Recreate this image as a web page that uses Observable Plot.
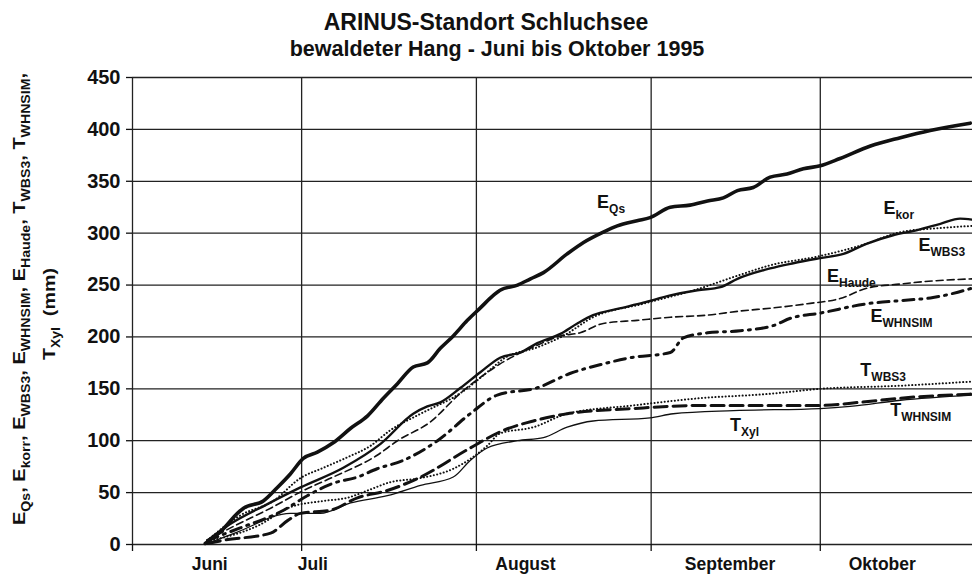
<!DOCTYPE html>
<html>
<head>
<meta charset="utf-8">
<script src="https://cdn.jsdelivr.net/npm/d3@7"></script>
<script src="https://cdn.jsdelivr.net/npm/@observablehq/plot@0.6"></script>
<style>
  body { margin: 0; background: #fff; font-family: "Liberation Sans", Arial, sans-serif; color: #111; }
  #head { position: relative; width: 972px; height: 66px; }
  #t1 { position: absolute; left: 0; width: 972px; top: 9px; text-align: center; font-weight: bold; font-size: 23px; line-height: 27px; }
  #t2 { position: absolute; left: 22px; width: 950px; top: 37px; text-align: center; font-weight: bold; font-size: 21.5px; line-height: 24px; }
</style>
</head>
<body>
<div id="head">
  <div id="t1">ARINUS-Standort Schluchsee</div>
  <div id="t2">bewaldeter Hang - Juni bis Oktober 1995</div>
</div>
<div id="chart"></div>
<script>
// ---- Data (day = days since 1 June 1995, value = cumulative mm) ----
const E_Qs = [[12.9,1],[16.1,15],[18.6,30],[19.7,35],[23.2,42],[25.7,55],[28.0,68],[30.3,83],[32.8,89],[35.6,98],[38.7,112],[41.7,124],[44.5,141],[47.0,155],[49.8,171],[52.3,175],[54.6,189],[56.9,201],[59.4,216],[61.7,228],[64.0,240],[65.2,245],[68.3,250],[70.6,256],[72.9,262],[77.1,280],[80.0,291],[83.5,301],[86.0,307],[89.5,312],[91.8,315],[95.4,325],[98.9,327],[102.0,331],[104.8,334],[107.3,341],[110.1,344],[113.1,354],[116.1,357],[119.0,362],[122.0,365],[125.5,372],[130.9,384],[136.2,392],[141.5,399],[148.6,406]];
const E_kor = [[13.3,4],[17.4,20],[23.6,38],[29.8,55],[37.4,74],[44.0,97],[49.8,126],[52.3,133],[54.6,137],[58.2,151],[61.7,166],[65.2,180],[68.8,185],[71.8,194],[75.9,203],[78.9,213],[81.7,221],[86.0,227],[90.6,233],[95.4,240],[100.2,245],[104.3,248],[107.3,256],[113.1,266],[117.2,271],[122.0,276],[126.1,280],[130.3,290],[134.9,298],[139.2,303],[143.3,309],[146.8,314],[148.9,313]];
const E_WBS3 = [[13.3,4],[19.1,28],[25.0,42],[29.8,64],[33.9,74],[38.1,84],[42.2,95],[45.7,110],[51.1,126],[58.2,146],[64.0,171],[65.8,179],[71.8,190],[76.4,201],[81.7,219],[90.6,232],[100.2,246],[107.3,259],[113.1,269],[122.0,278],[130.3,290],[136.2,301],[143.3,305],[148.9,307]];
const E_Haude = [[13.3,4],[17.4,16],[24.5,35],[30.3,52],[35.6,65],[43.4,86],[47.0,100],[52.8,118],[58.2,146],[61.7,161],[65.2,174],[71.8,192],[75.9,201],[79.4,204],[83.5,213],[89.5,216],[95.4,219],[102.0,221],[107.8,225],[113.7,228],[119.7,232],[125.5,237],[130.3,247],[136.2,251],[142.0,254],[148.9,256]];
const E_WHNSIM = [[13.3,4],[19.1,16],[26.8,33],[31.0,47],[35.6,59],[39.9,65],[43.4,73],[48.0,81],[54.1,100],[59.9,126],[64.7,144],[71.8,151],[77.7,165],[83.5,174],[88.3,180],[95.4,185],[97.7,199],[102.0,204],[107.8,206],[113.7,211],[116.7,218],[122.0,223],[130.3,232],[136.2,235],[142.0,238],[145.6,242],[148.9,247]];
const T_WBS3 = [[13.3,3],[22.2,18],[28.0,36],[33.9,42],[38.1,45],[41.7,52],[45.7,60],[51.1,64],[56.9,73],[62.9,95],[65.2,107],[71.1,113],[77.1,126],[88.8,134],[100.7,141],[112.6,145],[122.0,150],[136.2,153],[148.9,157]];
const T_WHNSIM = [[13.3,1],[16.1,4],[24.5,11],[27.5,23],[29.8,30],[35.1,33],[39.9,45],[45.2,52],[51.1,65],[59.9,93],[65.8,110],[71.1,119],[77.1,126],[88.8,131],[100.7,134],[122.0,134],[129.0,137],[136.2,141],[148.9,145]];
const T_Xyl = [[13.3,1],[18.6,12],[28.0,30],[33.3,30],[38.7,40],[45.2,47],[51.1,57],[56.9,65],[59.9,81],[62.9,93],[68.3,100],[72.9,103],[77.1,113],[81.7,119],[91.8,122],[95.9,126],[106.6,129],[122.0,131],[127.3,133],[136.2,139],[148.9,144]];

const yTicks = [0, 50, 100, 150, 200, 250, 300, 350, 400, 450];
const monthStarts = [0, 30, 61, 92, 122];
const monthNames = ["Juni", "Juli", "August", "September", "Oktober"];
const monthLabelDays = [13.7, 32, 69.7, 106, 133];

const curveLabels = [
  {label: "E_{Qs}", day: 82.4, mm: 330},
  {label: "E_{kor}", day: 133.2, mm: 324},
  {label: "E_{WBS3}", day: 139.4, mm: 288.6},
  {label: "E_{Haude}", day: 123.2, mm: 258.7},
  {label: "E_{WHNSIM}", day: 130.9, mm: 220.2},
  {label: "T_{WBS3}", day: 129.1, mm: 168.1},
  {label: "T_{WHNSIM}", day: 134.4, mm: 129.6},
  {label: "T_{Xyl}", day: 106.0, mm: 115.2}
];

// ---- Chart ----
const toRows = arr => arr.map(([day, mm]) => ({day, mm}));
const labelMap = new Map(monthLabelDays.map((d, i) => [d, monthNames[i]]));
const ink = "#111";
const lineOpts = (extra) => Object.assign({x: "day", y: "mm", stroke: ink, strokeLinejoin: "round", fill: "none", curve: "monotone-x"}, extra);

const chart = Plot.plot({
  width: 972,
  height: 508,
  marginLeft: 132,
  marginRight: 0,
  marginTop: 11,
  marginBottom: 30,
  x: {domain: [0, 149]},
  y: {domain: [0, 450]},
  style: {fontFamily: '"Liberation Sans", Arial, sans-serif', fontWeight: "bold", color: ink, background: "#fff"},
  marks: [
    Plot.ruleY(yTicks, {stroke: "#222", strokeWidth: 1.3}),
    Plot.ruleX(monthStarts, {stroke: "#222", strokeWidth: 1.3}),
    Plot.axisY({ticks: yTicks, tickSize: 6, tickPadding: 6, fontSize: 20, fontWeight: "bold", label: null, strokeWidth: 1.3}),
    Plot.axisX(monthStarts, {tickSize: 7, tickFormat: () => "", label: null, strokeWidth: 1.3}),
    Plot.axisX(monthLabelDays, {tickSize: 0, tickPadding: 13, tickFormat: d => labelMap.get(d), fontSize: 17.5, fontWeight: "bold", label: null}),
    Plot.line(toRows(T_Xyl), lineOpts({strokeWidth: 1.3})),
    Plot.line(toRows(T_WHNSIM), lineOpts({strokeWidth: 3, strokeDasharray: "13,6"})),
    Plot.line(toRows(T_WBS3), lineOpts({strokeWidth: 2, strokeDasharray: "0.1,3.3", strokeLinecap: "round"})),
    Plot.line(toRows(E_WHNSIM), lineOpts({strokeWidth: 3, strokeDasharray: "11,6,2,6"})),
    Plot.line(toRows(E_Haude), lineOpts({strokeWidth: 1.6, strokeDasharray: "7,4"})),
    Plot.line(toRows(E_WBS3), lineOpts({strokeWidth: 2, strokeDasharray: "0.1,3.3", strokeLinecap: "round"})),
    Plot.line(toRows(E_kor), lineOpts({strokeWidth: 2.4})),
    Plot.line(toRows(E_Qs), lineOpts({strokeWidth: 3.6})),
    Plot.text(curveLabels, {x: "day", y: "mm", text: "label", textAnchor: "start", lineAnchor: "middle", fontSize: 18, fontWeight: "bold", fill: ink})
  ]
});
document.getElementById("chart").appendChild(chart);

// ---- subscripts ----
const NS = "http://www.w3.org/2000/svg";
function subscriptify(el, subSize, shift) {
  const s = el.textContent;
  if (!s.includes("_{")) return;
  el.textContent = "";
  const parts = s.split(/_\{([^}]*)\}/);
  let pending = 0;
  parts.forEach((p, i) => {
    if (i % 2 === 1) {
      const t = document.createElementNS(NS, "tspan");
      t.textContent = p;
      t.setAttribute("font-size", subSize);
      t.setAttribute("dy", shift);
      el.appendChild(t);
      pending = -shift;
    } else if (p) {
      const t = document.createElementNS(NS, "tspan");
      t.textContent = p;
      if (pending) { t.setAttribute("dy", pending); pending = 0; }
      el.appendChild(t);
    }
  });
}
chart.querySelectorAll("text").forEach(el => subscriptify(el, 12, 5));

// ---- rotated y-axis title (two lines) ----
const svg = d3.select(chart);
function yTitle(str, x, y, len) {
  const t = svg.append("text")
    .attr("transform", `translate(${x},${y}) rotate(-90)`)
    .attr("text-anchor", "middle")
    .attr("font-size", 17)
    .attr("font-weight", "bold")
    .attr("fill", ink)
    .text(str);
  subscriptify(t.node(), 12, 5);
  if (len) t.attr("textLength", len).attr("lengthAdjust", "spacingAndGlyphs");
}
yTitle("E_{Qs}, E_{korr}, E_{WBS3}, E_{WHNSIM}, E_{Haude}, T_{WBS3}, T_{WHNSIM},", 25, 233, 452);
yTitle("T_{Xyl}  (mm)", 55, 248, 92);
</script>
</body>
</html>
